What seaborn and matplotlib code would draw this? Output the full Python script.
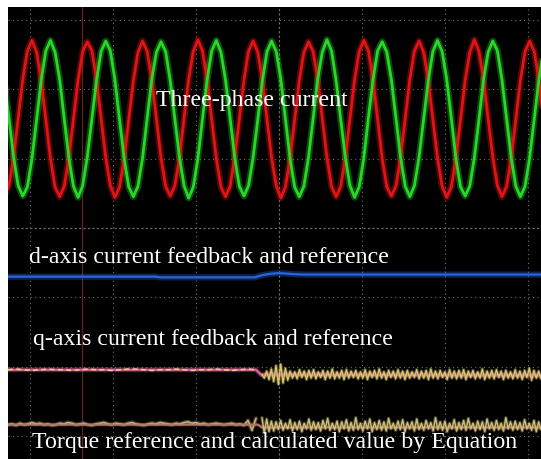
import numpy as np
import matplotlib
matplotlib.use("Agg")
import matplotlib.pyplot as plt
import seaborn as sns
from matplotlib.ticker import MultipleLocator

# scope screen, units are divisions (x: time/div, y: volts/div)

# three-phase current, 12 samples per electrical period, starting at a red trough
phase_t0, phase_dt = -3.309, 0.05552
red_phase = [
    -1.10, -0.96, -0.55, 0.01, 0.57, 0.98, 1.13, 0.96, 0.55, -0.01, -0.57, -0.98,
    -1.12, -0.97, -0.56, 0.00, 0.56, 0.97, 1.11, 0.98, 0.57, 0.01, -0.55, -0.96,
    -1.13, -0.98, -0.57, -0.01, 0.55, 0.96, 1.12, 0.97, 0.56, 0.00, -0.56, -0.97,
    -1.11, -0.96, -0.56, 0.01, 0.57, 0.97, 1.14, 0.98, 0.56, -0.01, -0.57, -0.98,
    -1.12, -0.97, -0.55, 0.00, 0.56, 0.98, 1.12, 0.96, 0.55, 0.00, -0.56, -0.96,
    -1.14, -0.98, -0.57, -0.01, 0.55, 0.96, 1.11, 0.97, 0.57, 0.01, -0.55, -0.97,
    -1.12, -0.97, -0.56, 0.00, 0.56, 0.97, 1.13, 0.98, 0.56, 0.00, -0.57, -0.98,
    -1.11, -0.96, -0.55, 0.01, 0.57, 0.98, 1.12, 0.96, 0.55, -0.01, -0.56, -0.97,
    -1.13, -0.98, -0.57, -0.01, 0.55, 0.96, 1.14, 0.97, 0.56, 0.00, -0.55, -0.96,
    -1.12, -0.97, -0.56, 0.00, 0.56, 0.97, 1.12, 0.97, 0.56, 0.00,
]
green_phase = [
    0.55, 0.01, -0.55, -0.96, -1.11, -0.98, -0.57, -0.01, 0.56, 0.98, 1.13, 0.96,
    0.57, 0.00, -0.56, -0.97, -1.13, -0.96, -0.55, 0.00, 0.55, 0.97, 1.12, 0.98,
    0.56, -0.01, -0.57, -0.98, -1.12, -0.97, -0.56, 0.01, 0.57, 0.96, 1.11, 0.97,
    0.55, 0.00, -0.55, -0.96, -1.14, -0.98, -0.57, 0.00, 0.56, 0.98, 1.13, 0.96,
    0.56, 0.01, -0.56, -0.97, -1.11, -0.96, -0.55, -0.01, 0.55, 0.97, 1.12, 0.97,
    0.57, 0.00, -0.57, -0.98, -1.12, -0.97, -0.56, 0.00, 0.57, 0.96, 1.14, 0.98,
    0.55, -0.01, -0.55, -0.96, -1.13, -0.98, -0.57, 0.01, 0.56, 0.98, 1.11, 0.96,
    0.56, 0.00, -0.56, -0.97, -1.12, -0.96, -0.55, 0.00, 0.55, 0.97, 1.13, 0.97,
    0.57, 0.01, -0.57, -0.98, -1.11, -0.97, -0.56, -0.01, 0.57, 0.96, 1.12, 0.98,
    0.56, 0.00, -0.56, -0.97, -1.12, -0.97, -0.56, 0.00, 0.56, 0.97,
]

# d-axis current (feedback and reference overlap)
d_t = [-3.265, -1.494, -1.434, -0.289, -0.205, -0.108, -0.012, 0.084, 0.181, 0.313, 3.157]
d_val = [0.00, 0.00, -0.01, -0.01, 0.02, 0.04, 0.05, 0.045, 0.035, 0.03, 0.03]

# q-axis current
q_ref_t = [-3.265, -0.277, -0.217, 3.157]
q_ref = [0.00, 0.00, -0.07, -0.08]
q_fb_left = [
    0.00, 0.01, 0.00, -0.01, 0.00, 0.01, 0.00, 0.00, -0.01, 0.00, 0.01, 0.00,
    0.00, -0.01, 0.00, 0.01, 0.01, 0.00, -0.01, 0.00, 0.00, 0.01, 0.00, -0.01,
    0.00, 0.00, 0.01, 0.00, -0.01, 0.00, 0.01, 0.00,
]
q_fb_right = [
    -0.07, -0.12, -0.02, -0.14, 0.01, -0.17, 0.06, -0.21, 0.08, -0.19, 0.02, -0.15,
    -0.02, -0.12, -0.03, -0.13, 0.00, -0.11, -0.02, -0.14, -0.01, -0.12, 0.00, -0.13,
    -0.03, -0.11, -0.01, -0.14, -0.02, -0.12, 0.01, -0.13, -0.03, -0.12, -0.01, -0.14,
    0.00, -0.12, -0.02, -0.11, -0.01, -0.13, -0.03, -0.12, 0.00, -0.14, -0.02, -0.11,
    -0.01, -0.13, 0.01, -0.12, -0.03, -0.14, -0.01, -0.11, -0.02, -0.13, 0.00, -0.12,
    -0.02, -0.14, -0.01, -0.12, -0.03, -0.11, 0.00, -0.13, -0.02, -0.12, -0.01, -0.14,
    0.01, -0.12, -0.02, -0.13, -0.01, -0.11, -0.03, -0.14, 0.00, -0.12, -0.02, -0.13,
    -0.01, -0.12, 0.00, -0.14, -0.02, -0.11, -0.01, -0.13, -0.03, -0.12, 0.01, -0.14,
    -0.02, -0.12, -0.01, -0.13, 0.00, -0.11, -0.02, -0.14, -0.01, -0.12, -0.03, -0.13,
    0.00, -0.12, -0.02, -0.14, -0.01, -0.11, 0.02, -0.15, -0.01, -0.12, -0.02, -0.13,
]

# torque reference and calculated value
tq_ref_t = [-3.265, -0.253, -0.205, 3.157]
tq_ref = [0.00, 0.00, -0.04, -0.04]
tq_left = [
    0.00, 0.01, -0.01, 0.02, 0.00, 0.01, 0.03, 0.01, 0.02, 0.00, 0.01, -0.01,
    0.00, 0.02, 0.01, 0.03, 0.02, 0.00, 0.01, 0.02, 0.00, -0.01, 0.01, 0.02,
    0.03, 0.01, 0.00, 0.02, 0.01, 0.00, 0.02, 0.03, 0.01, 0.00, -0.01, 0.01,
    0.02, 0.01, 0.03, 0.02, 0.01, 0.00, 0.02, 0.01, 0.03, 0.04, 0.02, 0.03,
    0.01, 0.02, 0.00, 0.01, 0.02, 0.01, 0.00, 0.01, 0.02, 0.00, 0.01, -0.01,
    0.06, -0.08, 0.09,
]
tq_right = [
    0.10, -0.12, 0.08, -0.10, 0.05, -0.09, 0.04, -0.07, 0.06, -0.08, 0.02, -0.06,
    0.07, -0.09, 0.03, -0.07, 0.05, -0.10, 0.02, -0.06, 0.08, -0.08, 0.04, -0.07,
    0.03, -0.09, 0.06, -0.06, 0.09, -0.08, 0.02, -0.07, 0.05, -0.10, 0.04, -0.06,
    0.07, -0.09, 0.03, -0.08, 0.10, -0.07, 0.02, -0.09, 0.05, -0.06, 0.08, -0.10,
    0.03, -0.07, 0.06, -0.08, 0.04, -0.09, 0.09, -0.06, 0.02, -0.08, 0.05, -0.07,
    0.07, -0.10, 0.03, -0.06, 0.04, -0.09, 0.08, -0.07, 0.02, -0.08, 0.06, -0.06,
    0.03, -0.09, 0.10, -0.07, 0.04, -0.08, 0.05, -0.10, 0.02, -0.06, 0.07, -0.09,
    0.03, -0.07, 0.06, -0.08, 0.09, -0.06, 0.02, -0.09, 0.05, -0.07, 0.04, -0.10,
    0.08, -0.06, 0.03, -0.08, 0.06, -0.07, 0.02, -0.09, 0.10, -0.06, 0.04, -0.08,
    0.05, -0.07, 0.03, -0.09, 0.07, -0.06, 0.02, -0.08, 0.06, -0.10, 0.04, -0.07,
]

labels = [
    "Three-phase current",
    "d-axis current feedback and reference",
    "q-axis current feedback and reference",
    "Torque reference and calculated value by Equation",
]

# channel offsets on screen (div)
OFF_PHASE, OFF_D, OFF_Q, OFF_TQ = 1.57, -0.70, -2.04, -2.83
SPLIT_L, SPLIT_R = -0.277, -0.205   # step instant in the q / torque traces

sns.set_style("dark")
plt.rcParams['font.family'] = ['Liberation Serif', 'DejaVu Serif']

fig = plt.figure(figsize=(5.41, 4.59), dpi=100, facecolor='white')
ax = fig.add_axes([8 / 541, 0, 533 / 541, 452 / 459])
ax.set_facecolor('black')
ax.set_xlim(-3.265, 3.157)
ax.set_ylim(-3.324, 3.180)

# graticule
for s in ['top', 'right']:
    ax.spines[s].set_visible(False)
for s in ['left', 'bottom']:
    ax.spines[s].set_position(('data', 0))
    ax.spines[s].set_color('#6e6e6e')
    ax.spines[s].set_linestyle((0, (1, 3)))
    ax.spines[s].set_linewidth(0.8)
ax.xaxis.set_major_locator(MultipleLocator(1))
ax.yaxis.set_major_locator(MultipleLocator(1))
ax.xaxis.set_minor_locator(MultipleLocator(0.2))
ax.yaxis.set_minor_locator(MultipleLocator(0.2))
ax.tick_params(which='both', direction='inout', colors='#767676', labelleft=False,
               labelbottom=False, length=4, width=0.7)
ax.grid(True, which='major', color='#6e6e6e', linestyle=(0, (1, 3)), linewidth=0.8)
ax.set_axisbelow(True)

ax.axvline(-2.373, color='#5e241c', lw=0.9, zorder=1)


def trace(t, v, off, color, lw=1.5, glow=4.0, ls='-', alpha=1.0):
    y = np.asarray(v) + off
    sns.lineplot(x=t, y=y, ax=ax, color=color, lw=glow, alpha=0.35 * alpha,
                 estimator=None, sort=False, zorder=3)
    sns.lineplot(x=t, y=y, ax=ax, color=color, lw=lw, alpha=alpha, linestyle=ls,
                 estimator=None, sort=False, zorder=4)


t_phase = phase_t0 + phase_dt * np.arange(len(red_phase))
trace(t_phase, red_phase, OFF_PHASE, '#e01414', lw=2.0, glow=4.8)
trace(t_phase, green_phase, OFF_PHASE, '#28d828', lw=2.0, glow=4.8)

trace(d_t, d_val, OFF_D, '#2a64e0', lw=1.6, glow=4.5)

trace(q_ref_t, q_ref, OFF_Q, '#e0609a', lw=1.6, glow=3.5)
trace(np.linspace(-3.265, SPLIT_L, len(q_fb_left)), q_fb_left, OFF_Q, '#e0cf70',
      lw=1.2, glow=0.1, ls=(0, (3, 2)))
trace(np.linspace(SPLIT_R, 3.157, len(q_fb_right)), q_fb_right, OFF_Q, '#d8c870',
      lw=1.0, glow=2.5)

trace(np.linspace(-3.265, SPLIT_L, len(tq_left)), tq_left, OFF_TQ, '#c8b078',
      lw=1.2, glow=3.0)
trace(tq_ref_t, tq_ref, OFF_TQ, '#b07868', lw=1.4, glow=2.5)
trace(np.linspace(SPLIT_R, 3.157, len(tq_right)), tq_right, OFF_TQ, '#d0bf78',
      lw=1.0, glow=2.5)

ax.set_xlabel('')
ax.set_ylabel('')

txt = dict(color='white', fontsize=17.2, ha='center', va='baseline', zorder=6)
ax.text(-0.325, 1.755, labels[0], **txt)
ax.text(-0.849, -0.499, labels[1], **txt)
ax.text(-0.80, -1.683, labels[2], **txt)
ax.text(-0.054, -3.165, labels[3], **txt)

fig.savefig('out.png', dpi=100, facecolor='white')
